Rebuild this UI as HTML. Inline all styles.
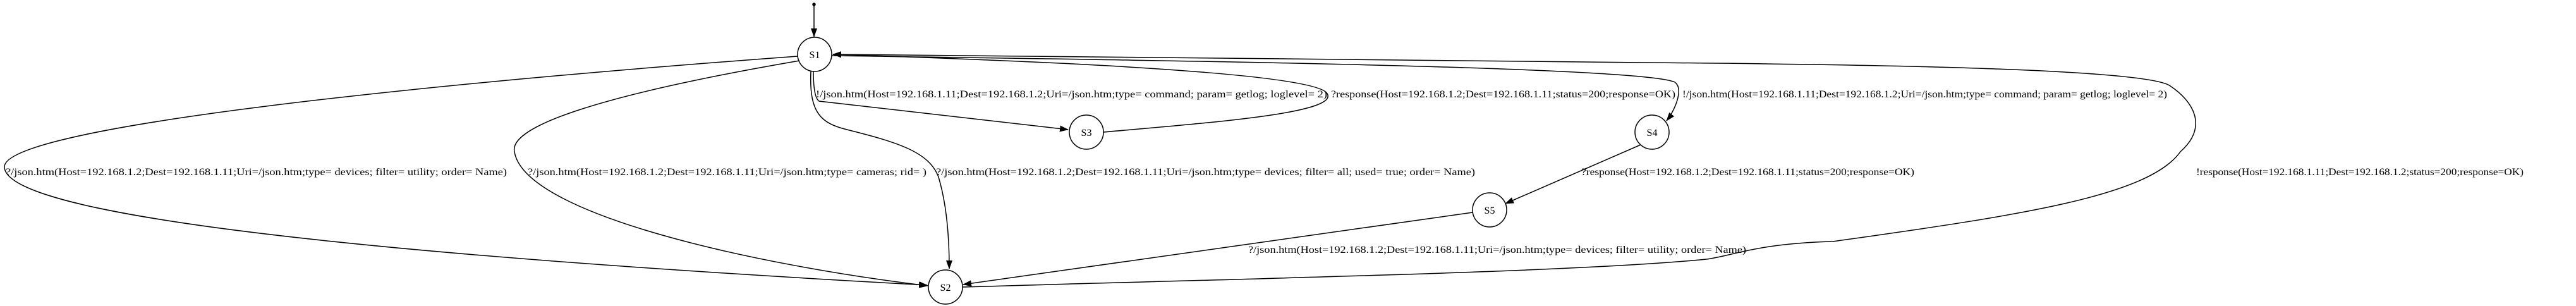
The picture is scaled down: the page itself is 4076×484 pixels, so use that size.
<!DOCTYPE html>
<html><head><meta charset="utf-8"><style>
html,body{margin:0;padding:0;background:#fff;}
svg{display:block;}
text{font-family:"Liberation Serif",serif;font-size:16px;fill:#000;}
</style></head><body>
<svg width="4076" height="484" viewBox="0 0 4076 484" xmlns="http://www.w3.org/2000/svg">
<defs>
<marker id="a" markerWidth="14" markerHeight="10" refX="13" refY="5" orient="auto" markerUnits="userSpaceOnUse">
<path d="M0,0 L14,5 L0,10 Z" fill="#000"/></marker>
</defs>
<g fill="none" stroke="#000" stroke-width="1.5">
<circle cx="1288" cy="7" r="2" fill="#000"/>
<path d="M1288,9 L1288,58" marker-end="url(#a)"/>
<circle cx="1289" cy="86" r="27"/>
<circle cx="1719" cy="209" r="27"/>
<circle cx="1496" cy="454" r="27"/>
<circle cx="2357" cy="332" r="27"/>
<circle cx="2614" cy="209" r="27"/>
<path d="M1262,89 C 700,130 0,200 7,265 C 15,360 900,420 1467,451" marker-end="url(#a)"/>
<path d="M1265,96 C 950,150 805,200 814,240 C 830,340 1200,420 1468,452" marker-end="url(#a)"/>
<path d="M1283,113 C 1280,180 1300,195 1340,205 C 1420,225 1470,240 1485,280 C 1500,330 1502,390 1502,425" marker-end="url(#a)"/>
<path d="M1287,113 C 1287,140 1290,156 1296,160 L 1690,205" marker-end="url(#a)"/>
<path d="M1746,209 C 1900,195 2120,180 2100,148 C 2080,110 1500,92 1318,86" marker-end="url(#a)"/>
<path d="M1316,88 C 1800,95 2600,105 2650,130 C 2665,140 2650,175 2637,191" marker-end="url(#a)"/>
<path d="M2596,229 L 2382,322" marker-end="url(#a)"/>
<path d="M2330,336 L 1524,450" marker-end="url(#a)"/>
<path d="M1523,454 C 2000,440 2500,430 2700,410 C 2740,405 2780,385 2900,382 C 3200,340 3400,310 3450,240 C 3495,200 3470,160 3434,136 C 3400,110 3000,102 2600,99 C 2200,95 1600,88 1318,86" marker-end="url(#a)"/>
</g>
<g text-anchor="middle" font-size="16">
<text x="1289" y="92">S1</text>
<text x="1719" y="215">S3</text>
<text x="1496" y="460">S2</text>
<text x="2357" y="338">S5</text>
<text x="2614" y="215">S4</text>
</g>
<g>
<text x="9" y="277" textLength="793" lengthAdjust="spacingAndGlyphs">?/json.htm(Host=192.168.1.2;Dest=192.168.1.11;Uri=/json.htm;type= devices; filter= utility; order= Name)</text>
<text x="835" y="277" textLength="631" lengthAdjust="spacingAndGlyphs">?/json.htm(Host=192.168.1.2;Dest=192.168.1.11;Uri=/json.htm;type= cameras; rid= )</text>
<text x="1481" y="277" textLength="853" lengthAdjust="spacingAndGlyphs">?/json.htm(Host=192.168.1.2;Dest=192.168.1.11;Uri=/json.htm;type= devices; filter= all; used= true; order= Name)</text>
<text x="1291" y="154" textLength="809" lengthAdjust="spacingAndGlyphs">!/json.htm(Host=192.168.1.11;Dest=192.168.1.2;Uri=/json.htm;type= command; param= getlog; loglevel= 2)</text>
<text x="2106" y="154" textLength="545" lengthAdjust="spacingAndGlyphs">?response(Host=192.168.1.2;Dest=192.168.1.11;status=200;response=OK)</text>
<text x="2662" y="154" textLength="767" lengthAdjust="spacingAndGlyphs">!/json.htm(Host=192.168.1.11;Dest=192.168.1.2;Uri=/json.htm;type= command; param= getlog; loglevel= 2)</text>
<text x="2502" y="277" textLength="527" lengthAdjust="spacingAndGlyphs">?response(Host=192.168.1.2;Dest=192.168.1.11;status=200;response=OK)</text>
<text x="3475" y="277" textLength="518" lengthAdjust="spacingAndGlyphs">!response(Host=192.168.1.11;Dest=192.168.1.2;status=200;response=OK)</text>
<text x="1975" y="400" textLength="788" lengthAdjust="spacingAndGlyphs">?/json.htm(Host=192.168.1.2;Dest=192.168.1.11;Uri=/json.htm;type= devices; filter= utility; order= Name)</text>
</g>
</svg>
</body></html>
